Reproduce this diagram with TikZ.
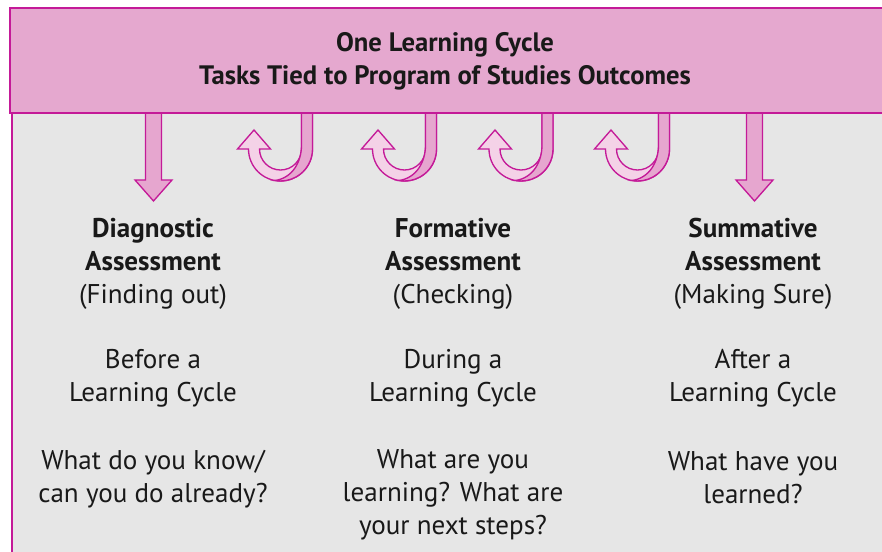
\documentclass[tikz,border=0pt]{standalone}
\usepackage{fontspec}
\setmainfont{PT Sans}
\usepackage{xcolor}
\usetikzlibrary{positioning}
\definecolor{cyclemag}{RGB}{196,26,152}
\definecolor{cyclehead}{RGB}{229,168,207}
\definecolor{cyclelight}{RGB}{244,210,231}
\definecolor{cycledark}{RGB}{230,166,207}
\definecolor{cyclegray}{RGB}{230,230,230}
\tikzstyle{titletext} = [align=center, font=\fontsize{20}{24.75}\selectfont\bfseries, text=black!90]
\tikzstyle{coltext}   = [align=center, font=\fontsize{20.3}{24.75}\selectfont, text=black!90]
\tikzstyle{fatarrow}  = [draw=cyclemag, line width=1pt, fill=cyclelight, line join=miter]
\tikzstyle{frame}     = [draw=cyclemag, line width=1.5pt]

\begin{document}
\begin{tikzpicture}[x=0.75pt, y=-0.75pt]
	\clip (0,0) rectangle (882,552);
	% body and header band
	\fill[cyclegray] (12,113) rectangle (900,600);
	\draw[frame] (12,113) -- (12,600);
	% straight arrows down
	\foreach \ax in {153.5, 754.5} {
		\draw[fatarrow, fill=cycledark] (\ax-8,113) -- (\ax-8,180) -- (\ax-18.5,180) -- (\ax,201)
			-- (\ax+18.5,180) -- (\ax+8,180) -- (\ax+8,113) -- cycle;
	}
	% turning arrows
	\foreach \sx/\tx in {307/254, 431/378, 547/495, 664/611} {
		\pgfmathsetmacro{\cx}{(\sx+\tx)/2}
		\draw[fatarrow] (\cx+32,113) -- (\cx+32,149) arc[start angle=0, end angle=180, radius=32]
			-- (\tx-16.5,149) -- (\tx,130) -- (\tx+16.5,149) -- (\cx-21,149)
			arc[start angle=180, end angle=0, radius=21] -- (\cx+21,113) -- cycle;
		\draw[fatarrow, fill=cycledark] (\cx+21,113) -- (\cx+32,113) -- (\cx+32,149)
			arc[start angle=0, end angle=100, radius=32]
			.. controls (\cx+12,178) and (\cx+21,162) .. (\cx+21,145) -- cycle;
	}
	\draw[frame, fill=cyclehead] (10,8) rectangle (900,113);
	\node[titletext] (title) at (445,61) {One Learning Cycle\\Tasks Tied to Program of Studies Outcomes};
	% three columns
	\node[coltext] (diag) at (153,263.5) {\textbf{Diagnostic}\\\textbf{Assessment}\\(Finding out)};
	\node[coltext, right of=diag, node distance=225pt] (form) {\textbf{Formative}\\\textbf{Assessment}\\(Checking)};
	\node[coltext, right of=form, node distance=225pt] (summ) {\textbf{Summative}\\\textbf{Assessment}\\(Making Sure)};
	\node[coltext, below of=diag, node distance=86pt] (before) {Before a\\Learning Cycle};
	\node[coltext, below of=form, node distance=86pt] (during) {During a\\Learning Cycle};
	\node[coltext, below of=summ, node distance=86pt] (after) {After a\\Learning Cycle};
	\node[coltext, below of=before, node distance=75.4pt] (q1) {What do you know/\\can you do already?};
	\node[coltext, below of=during, node distance=87.5pt] (q2) {What are you\\learning? What are\\your next steps?};
	\node[coltext, below of=after, node distance=74.5pt] (q3) {What have you\\learned?};
\end{tikzpicture}
\end{document}
